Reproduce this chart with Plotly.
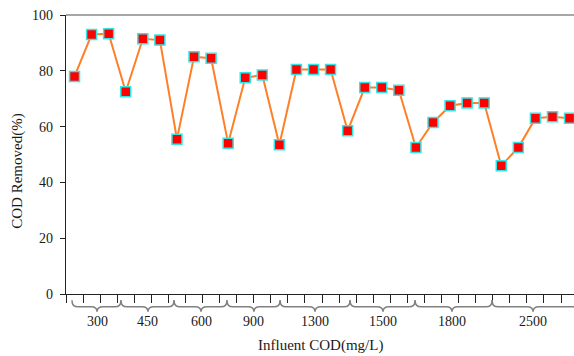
import plotly.graph_objects as go

# ---- data ----
group_labels = ["300", "450", "600", "900", "1300", "1500", "1800", "2500"]
group_sizes = [3, 3, 3, 3, 4, 4, 5, 5]
cod_removed = [78, 93, 93.3,
               72.5, 91.5, 91,
               55.5, 85, 84.5,
               54, 77.5, 78.5,
               53.5, 80.5, 80.5, 80.5,
               58.5, 74, 74, 73,
               52.5, 61.5, 67.5, 68.5, 68.5,
               46, 52.5, 63, 63.5, 63]
sample_index = list(range(1, len(cod_removed) + 1))

# decoration: brace edges / tips (in x-axis units, as drawn in the source figure)
brace_edges = [0.85, 3.72, 6.83, 9.93, 13.04, 17.14, 20.95, 25.46, 30.6]
brace_tips = [2.32, 5.30, 8.41, 11.51, 15.09, 19.07, 23.11, 27.86]

FONT = "Liberation Serif, Times New Roman, serif"

fig = go.Figure()
fig.add_trace(go.Scatter(
    x=sample_index, y=cod_removed, mode="lines+markers",
    line=dict(color="#FF7F27", width=2),
    marker=dict(symbol="square", size=10, color="#FF0000",
                line=dict(color="#33E6E6", width=1.5)),
    showlegend=False, cliponaxis=False,
))

shapes = []
y_top, y_mid, y_tip = -0.022, -0.046, -0.064
d = 0.35
for i in range(len(group_labels)):
    x0, x1, xc = brace_edges[i], brace_edges[i + 1], brace_tips[i]
    path = (f"M {x0},{y_top} Q {x0},{y_mid} {x0 + d},{y_mid} "
            f"L {xc - d},{y_mid} Q {xc},{y_mid} {xc},{y_tip} "
            f"Q {xc},{y_mid} {xc + d},{y_mid} "
            f"L {x1 - d},{y_mid} Q {x1},{y_mid} {x1},{y_top}")
    shapes.append(dict(type="path", path=path, xref="x", yref="paper",
                       line=dict(color="#808080", width=1.5)))
# top border line
shapes.append(dict(type="line", xref="paper", yref="paper", x0=0, x1=1, y0=1, y1=1,
                   line=dict(color="#8a8a8a", width=1.5)))

annotations = []
for lab, xc in zip(group_labels, brace_tips):
    annotations.append(dict(x=xc, y=-0.1, xref="x", yref="paper", text=lab,
                            showarrow=False, xanchor="center", yanchor="middle",
                            font=dict(family=FONT, size=14, color="#1a1a1a")))
annotations.append(dict(x=0.5, y=-0.183, xref="paper", yref="paper",
                        text="Influent COD(mg/L)", showarrow=False,
                        xanchor="center", yanchor="middle",
                        font=dict(family=FONT, size=15, color="#1a1a1a")))
annotations.append(dict(x=-0.0955, y=0.44, xref="paper", yref="paper",
                        text="COD Removed(%)", showarrow=False, textangle=-90,
                        xanchor="center", yanchor="middle",
                        font=dict(family=FONT, size=15, color="#1a1a1a")))

n = len(cod_removed)
fig.update_layout(
    width=574, height=356,
    margin=dict(l=66, r=0, t=15, b=62),
    paper_bgcolor="white", plot_bgcolor="white",
    shapes=shapes, annotations=annotations,
    xaxis=dict(range=[0.5, 30.26], showgrid=False, zeroline=False,
               showline=True, linecolor="#222", linewidth=1.3,
               ticks="outside", ticklen=8, tickcolor="#222", tickwidth=1.3,
               tickvals=[i + 0.5 for i in range(n + 1)], showticklabels=False),
    yaxis=dict(range=[0, 100], showgrid=False, zeroline=False,
               showline=True, linecolor="#222", linewidth=1.3,
               ticks="outside", ticklen=5, tickcolor="#222", tickwidth=1.3,
               tickvals=[0, 20, 40, 60, 80, 100], ticklabelstandoff=4,
               tickfont=dict(family=FONT, size=14, color="#1a1a1a")),
)

fig.write_html("out.html")
